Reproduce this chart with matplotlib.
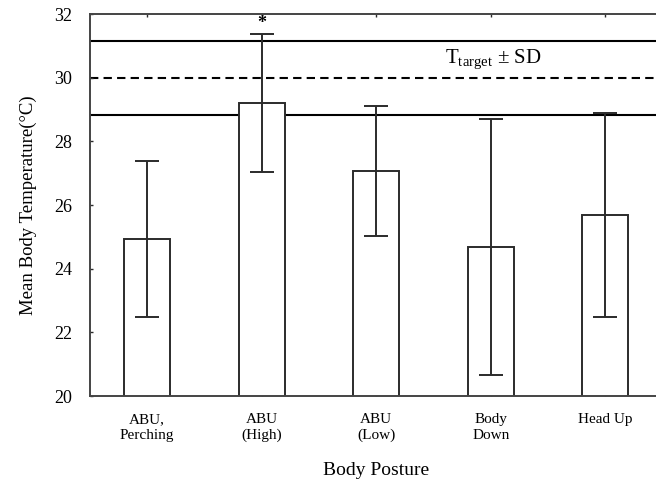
import numpy as np
import matplotlib
matplotlib.use("Agg")
import matplotlib.pyplot as plt

plt.rcParams['font.family'] = ['Liberation Serif', 'DejaVu Serif']
plt.rcParams['mathtext.fontset'] = 'custom'
plt.rcParams['mathtext.rm'] = 'Liberation Serif'

postures = ["ABU,\nPerching", "ABU\n(High)", "ABU\n(Low)", "Body\nDown", "Head Up"]
means = [24.95, 29.2, 27.07, 24.69, 25.68]
sds = [2.45, 2.17, 2.03, 4.03, 3.2]
t_target = 30.0
t_sd = 1.17

x = np.arange(len(postures))
edge = "#2b2b2b"

fig = plt.figure(figsize=(6.56, 4.86), dpi=100)
ax = fig.add_axes([0.137, 0.185, 0.873, 0.786])

ax.bar(x, means, width=0.4, bottom=0, color="white", edgecolor=edge, linewidth=1.4, zorder=2)
ax.errorbar(x, means, yerr=sds, fmt="none", ecolor=edge, elinewidth=1.4,
            capsize=8.5, capthick=1.4, zorder=3)

# target temperature with +/- SD band
ax.axhline(t_target, color="black", lw=1.5, ls=(0, (4, 2.5)), zorder=1)
ax.axhline(t_target + t_sd, color="black", lw=1.5, zorder=1)
ax.axhline(t_target - t_sd, color="black", lw=1.5, zorder=1)
ax.text(2.6, 30.55, r"T$_{\mathrm{target}}$ ± SD", fontsize=15, va="center", ha="left")
ax.text(1, 31.72, "*", fontsize=13, ha="center", va="center", fontweight="bold")

ax.set_xlim(-0.5, 4.5)
ax.set_ylim(20, 32)
ax.set_yticks([20, 22, 24, 26, 28, 30, 32])
ax.set_xticks(x)
ax.set_xticklabels(postures, fontsize=11, linespacing=1.3)
ax.tick_params(axis="both", direction="in", length=2.5, width=1, color=edge, top=True)
ax.tick_params(axis="y", labelsize=13, pad=13)
ax.tick_params(axis="x", pad=12)
for s in ax.spines.values():
    s.set_color("#444444")
    s.set_linewidth(1.4)

ax.set_ylabel("Mean Body Temperature(°C)", fontsize=13.5, labelpad=12)
ax.set_xlabel("Body Posture", fontsize=14, labelpad=14)

fig.savefig("out.png", dpi=100)
